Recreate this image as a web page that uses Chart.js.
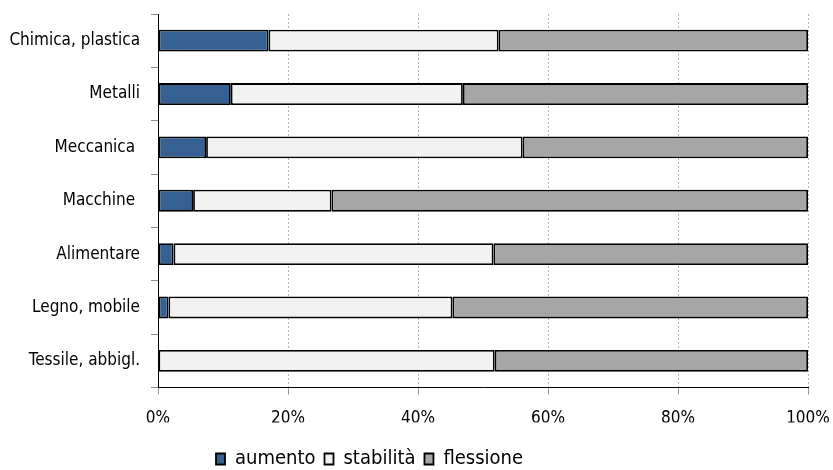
<!DOCTYPE html>
<html>
<head>
<meta charset="utf-8">
<script src="https://cdn.jsdelivr.net/npm/chart.js@4/dist/chart.umd.min.js"></script>
<style>
  html, body { margin: 0; padding: 0; background: #ffffff; }
  #wrap { width: 833px; height: 470px; }
</style>
</head>
<body>
<div id="wrap"><canvas id="c" width="833" height="470"></canvas></div>
<script>
// Sectors (top to bottom) and share of firms per outlook, in percent
const categories = ['Chimica, plastica', 'Metalli', 'Meccanica ', 'Macchine ', 'Alimentare', 'Legno, mobile', 'Tessile, abbigl.'];
const aumento   = [17.0, 11.2, 7.4, 5.4, 2.4, 1.6, 0];
const stabilita = [35.4, 35.7, 48.7, 21.3, 49.2, 43.7, 51.8];
const flessione = [47.6, 53.1, 43.9, 73.3, 48.4, 54.7, 48.2];
const seriesNames = ['aumento', 'stabilità', 'flessione'];
const xTickValues = [0, 20, 40, 60, 80, 100];

const FONT = "'DejaVu Sans Condensed', 'DejaVu Sans', sans-serif";
const colors = ['#366092', '#f2f2f2', '#a6a6a6'];

// Place the legend row at a fixed spot under the plot
const legendPlacer = {
  id: 'legendPlacer',
  afterLayout(chart) {
    const lg = chart.legend;
    if (!lg) return;
    const pad = lg.options.labels.padding;
    const itemH = Math.max(lg.options.labels.font.size || 20, lg.options.labels.boxHeight || 0);
    const dx = 216 - (lg.left + pad);
    const dy = 459 - (lg.top + pad + itemH / 2);
    lg.left += dx; lg.right += dx;
    lg.top += dy; lg.bottom += dy;
  }
};

const series = [aumento, stabilita, flessione];
const datasets = series.map((values, i) => ({
  label: seriesNames[i],
  data: values,
  backgroundColor: colors[i],
  borderColor: '#000000',
  borderWidth: 1.8,
  borderSkipped: false,
  barPercentage: 0.41,
  categoryPercentage: 1.0
}));

new Chart(document.getElementById('c'), {
  type: 'bar',
  data: { labels: categories, datasets },
  plugins: [legendPlacer],
  options: {
    indexAxis: 'y',
    responsive: false,
    animation: false,
    devicePixelRatio: 1,
    layout: { padding: { top: 14, right: 25, bottom: 8.5, left: 0 } },
    plugins: {
      tooltip: { enabled: false },
      legend: {
        position: 'bottom',
        align: 'start',
        labels: {
          color: '#000000',
          font: { family: FONT, size: 20 },
          boxWidth: 9,
          boxHeight: 11,
          padding: 9
        }
      }
    },
    scales: {
      x: {
        stacked: true,
        min: 0,
        max: 100,
        afterBuildTicks(scale) { scale.ticks = xTickValues.map(v => ({ value: v })); },
        afterFit(scale) {
          scale.height = 35;
          scale.paddingLeft = 0;
          scale.paddingRight = 0;
        },
        ticks: {
          color: '#000000',
          font: { family: FONT, size: 17 },
          padding: 14,
          maxRotation: 0,
          callback: v => v + '%'
        },
        grid: { color: '#b5b5b5', lineWidth: 1, tickColor: '#999999', tickLength: 7, tickBorderDash: [] },
        border: { display: true, color: '#000000', width: 1, dash: [2, 2] }
      },
      y: {
        stacked: true,
        afterFit(scale) {
          scale.width = 158;
          scale.paddingTop = 0;
          scale.paddingBottom = 0;
        },
        ticks: {
          color: '#000000',
          font: { family: FONT, size: 17 },
          padding: 11
        },
        grid: { drawOnChartArea: false, offset: true, tickColor: '#8c8c8c', tickLength: 7 },
        border: { display: true, color: '#000000', width: 1 }
      }
    }
  }
});
</script>
</body>
</html>
